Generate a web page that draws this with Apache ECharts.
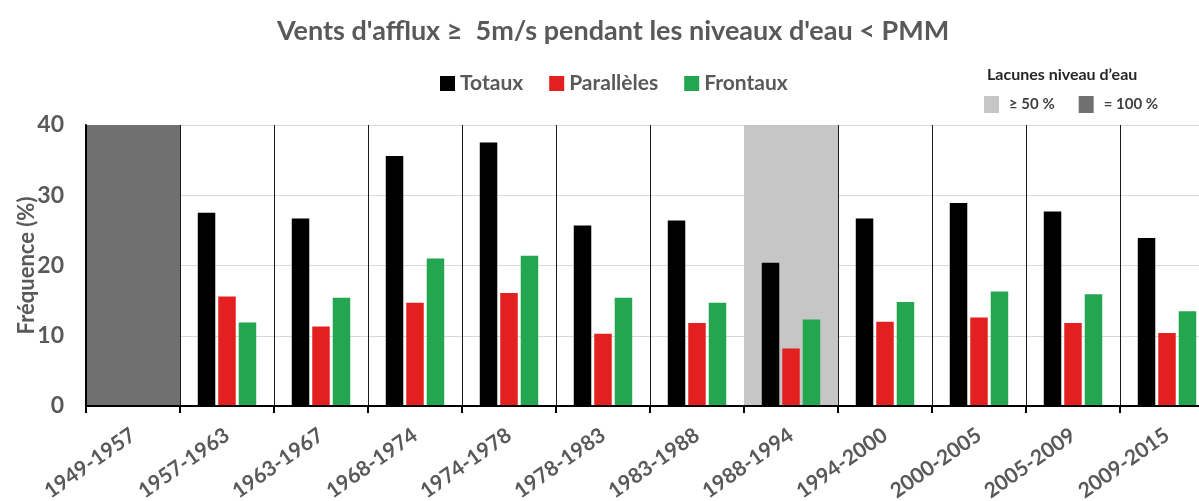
<!DOCTYPE html>
<html>
<head>
<meta charset="utf-8">
<script src="https://cdn.jsdelivr.net/npm/echarts@6/dist/echarts.min.js"></script>
<style>
  html, body { margin: 0; padding: 0; background: #ffffff; }
  #chart { width: 1199px; height: 501px; }
</style>
</head>
<body>
<div id="chart"></div>
<script>
// Periods of observation
const periods = ['1949-1957', '1957-1963', '1963-1967', '1968-1974', '1974-1978', '1978-1983',
                 '1983-1988', '1988-1994', '1994-2000', '2000-2005', '2005-2009', '2009-2015'];

// Frequency (%) of onshore winds >= 5 m/s during water levels below mean sea level
const totaux     = [null, 27.5, 26.7, 35.6, 37.5, 25.7, 26.4, 20.4, 26.7, 28.9, 27.7, 23.9];
const paralleles = [null, 15.6, 11.3, 14.7, 16.1, 10.3, 11.8,  8.2, 12.0, 12.6, 11.8, 10.4];
const frontaux   = [null, 11.9, 15.4, 21.0, 21.4, 15.4, 14.7, 12.3, 14.8, 16.3, 15.9, 13.5];

// Periods with gaps in the water-level record
const gapsPartial = ['1988-1994'];   // >= 50 % missing
const gapsFull    = ['1949-1957'];   // 100 % missing

const yTicks = [0, 10, 20, 30, 40];
const yMin = yTicks[0], yMax = yTicks[yTicks.length - 1];

const FONT = 'Lato, "Open Sans", sans-serif';
const TXT = '#595959';

const bandData = list => periods.map(p => list.includes(p) ? yMax : '-');

const chart = echarts.init(document.getElementById('chart'), null, { renderer: 'canvas' });

chart.setOption({
  backgroundColor: '#ffffff',
  textStyle: { fontFamily: FONT },
  animation: false,
  title: [
    {
      text: "Vents d'afflux \u2265  5m/s pendant les niveaux d'eau < PMM",
      left: 277,
      top: 18,
      padding: 0,
      textStyle: { fontFamily: FONT, fontSize: 27, fontWeight: 'bold', color: TXT }
    },
    {
      text: "Lacunes niveau d\u2019eau",
      left: 982,
      top: 62,
      textStyle: { fontFamily: FONT, fontSize: 16, fontWeight: 'bold', color: '#262626' }
    }
  ],
  legend: [
    {
      data: ['Totaux', 'Parallèles', 'Frontaux'],
      left: 435,
      top: 68,
      icon: 'rect',
      itemWidth: 15,
      itemHeight: 15,
      itemGap: 26,
      textStyle: { fontFamily: FONT, fontSize: 21, fontWeight: 'bold', color: TXT }
    },
    {
      data: ['\u2265 50 %', '= 100 %'],
      left: 979,
      top: 91,
      icon: 'rect',
      itemWidth: 15,
      itemHeight: 17,
      itemGap: 24,
      textStyle: { fontFamily: FONT, fontSize: 15, fontWeight: 'bold', color: '#404040', padding: [0, 0, 0, 5] }
    }
  ],
  grid: {
    left: 86, top: 125, width: 1128, height: 281,
    containLabel: false,
    outerBoundsMode: 'none'
  },
  xAxis: [
    {
      type: 'category',
      data: periods,
      position: 'bottom',
      axisLine: { show: false },
      axisTick: { show: false },
      splitLine: { show: true, lineStyle: { color: '#1a1a1a', width: 1 } },
      axisLabel: {
        rotate: 35,
        margin: 27,
        interval: 0,
        fontFamily: FONT,
        fontSize: 21,
        fontWeight: 'bold',
        color: TXT
      }
    },
    {
      type: 'category',
      data: periods,
      position: 'bottom',
      offset: 0,
      z: 10,
      axisLine: { show: true, lineStyle: { color: '#000000', width: 2 } },
      axisTick: { show: true, length: 7, lineStyle: { color: '#000000', width: 2 } },
      axisLabel: { show: false },
      splitLine: { show: false }
    }
  ],
  yAxis: [
    {
      type: 'value',
      min: yMin,
      max: yMax,
      interval: 10,
      name: 'Fréquence (%)',
      nameLocation: 'middle',
      nameGap: 48,
      nameMoveOverlap: false,
      nameTextStyle: { fontFamily: FONT, fontSize: 22, fontWeight: 'bold', color: TXT },
      axisLine: { show: false },
      axisTick: { show: false },
      splitLine: { show: true, lineStyle: { color: '#d9d9d9', width: 1 } },
      axisLabel: { margin: 22, fontFamily: FONT, fontSize: 23, fontWeight: 'bold', color: TXT }
    },
    {
      type: 'value',
      min: yMin,
      max: yMax,
      interval: 10,
      position: 'left',
      offset: 0,
      z: 10,
      axisLine: { show: true, lineStyle: { color: '#000000', width: 2 } },
      axisTick: { show: false },
      axisLabel: { show: false },
      splitLine: { show: false }
    }
  ],
  series: [
    {
      name: '\u2265 50 %',
      type: 'bar',
      xAxisIndex: 1,
      yAxisIndex: 0,
      barWidth: '100%',
      barGap: '-100%',
      z: 1,
      itemStyle: { color: '#c6c6c6' },
      data: bandData(gapsPartial)
    },
    {
      name: '= 100 %',
      type: 'bar',
      xAxisIndex: 1,
      yAxisIndex: 0,
      barWidth: '100%',
      barGap: '-100%',
      z: 1,
      itemStyle: { color: '#707070' },
      data: bandData(gapsFull)
    },
    {
      name: 'Totaux',
      type: 'bar',
      xAxisIndex: 0,
      yAxisIndex: 0,
      barWidth: 17.5,
      barGap: '17%',
      z: 3,
      itemStyle: { color: '#000000' },
      data: totaux
    },
    {
      name: 'Parallèles',
      type: 'bar',
      xAxisIndex: 0,
      yAxisIndex: 0,
      barWidth: 17.5,
      barGap: '17%',
      z: 3,
      itemStyle: { color: '#e3201f' },
      data: paralleles
    },
    {
      name: 'Frontaux',
      type: 'bar',
      xAxisIndex: 0,
      yAxisIndex: 0,
      barWidth: 17.5,
      barGap: '17%',
      z: 3,
      itemStyle: { color: '#23a64f' },
      data: frontaux
    }
  ]
});
</script>
</body>
</html>
